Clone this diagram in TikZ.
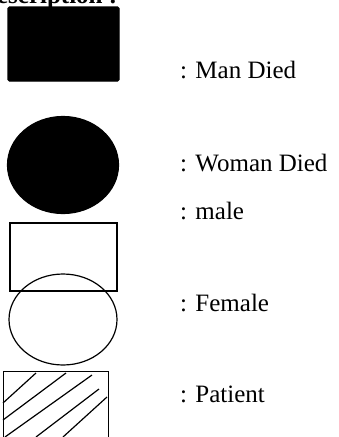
\documentclass[tikz,border=0pt]{standalone}
\usepackage{fontspec}
\setmainfont{Liberation Serif}
\usepackage{tikz}
\usetikzlibrary{shapes.geometric}
\tikzset{
  legtext/.style={anchor=base west, inner sep=0pt, font=\fontsize{25}{29}\selectfont},
  symbox/.style={draw, line width=1.2pt, inner sep=0pt}
}

\begin{document}
\begin{tikzpicture}[x=1pt, y=-1pt]
		\useasboundingbox (0,0) rectangle (338,437);
		% heading, cut at the top and left edges
		\node[anchor=base west, inner sep=0pt, font=\fontsize{25}{29}\selectfont\bfseries] (head) at (8,3.5) {\llap{De}scription :};
		% symbols
		\node[symbox, fill=black, rounded corners=1.5pt, minimum width=111pt, minimum height=74pt] (mandied) at (63.5,44) {};
		\node[symbox, ellipse, fill=black, minimum width=111pt, minimum height=97pt] (womandied) at (63,165) {};
		\node[symbox, minimum width=107pt, minimum height=68pt] (male) at (63.5,257) {};
		\node[symbox, ellipse, minimum width=108pt, minimum height=91pt] (female) at (63,319.5) {};
		\node[symbox, anchor=north west, minimum width=105pt, minimum height=80pt] (patient) at (3,371) {};
		% hatching of the patient box
		\foreach \xa/\ya/\xb/\yb in {3/403/36/373, 3/420/66/373, 5/437/92/375, 36/437/99/389, 63/437/107/397} {
			\draw[line width=1.2pt] (\xa,\ya) -- (\xb,\yb);
		}
		% labels
		\foreach \nm/\yb/\lab in {lmd/78/Man Died, lwd/171/Woman Died, lm/219/male, lf/311/Female, lp/402/Patient} {
			\node[legtext] (\nm) at (180,\yb) {: \lab};
		}
	\end{tikzpicture}
\end{document}
